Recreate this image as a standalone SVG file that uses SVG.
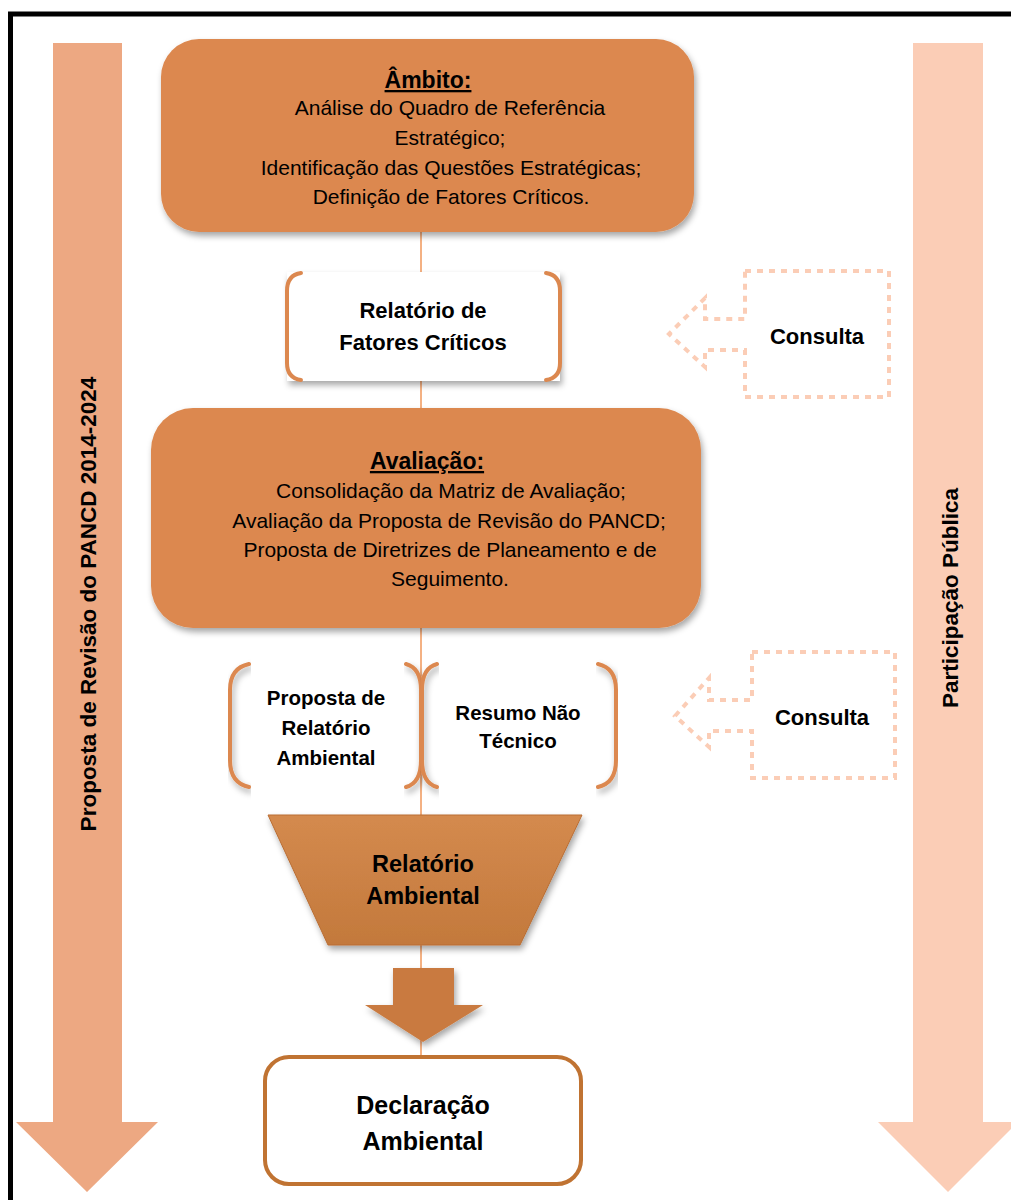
<svg xmlns="http://www.w3.org/2000/svg" width="1011" height="1200" viewBox="0 0 1011 1200">
<defs>
<style>
.t{font-family:"Liberation Sans",Arial,sans-serif;fill:#000;text-anchor:middle}
.n{font-size:21px}
.b{font-size:22px;font-weight:bold}
.h{font-size:23px;font-weight:bold;text-decoration:underline}
.s{font-size:20.5px;font-weight:bold}
.brk{fill:none;stroke:#DC884F;stroke-width:4;stroke-linecap:round}
.dot{fill:none;stroke:#FBCDB6;stroke-width:4;stroke-dasharray:6 6}
</style>
<filter id="sh" x="-10%" y="-10%" width="120%" height="130%">
<feDropShadow dx="2" dy="4" stdDeviation="3" flood-color="#000" flood-opacity="0.35"/>
</filter>
<linearGradient id="trap" x1="0" y1="0" x2="0" y2="1">
<stop offset="0" stop-color="#D48A4E"/>
<stop offset="1" stop-color="#C3793C"/>
</linearGradient>
</defs>
<rect width="1011" height="1200" fill="#fff"/>
<path d="M10.5 1200 V14 H1011" fill="none" stroke="#000" stroke-width="5"/>

<g id="arrow-left">
<polygon points="53,43 122,43 122,1122 158,1122 87,1192 16,1122 53,1122" fill="#EDA882"/>
<text class="t" style="font-size:22.5px;font-weight:bold" transform="translate(96,604) rotate(-90)">Proposta de Revisão do PANCD 2014-2024</text>
</g>
<g id="arrow-right">
<polygon points="913,43 983,43 983,1122 1018,1122 948,1192 878,1122 913,1122" fill="#FBCDB6"/>
<text class="t" style="font-size:22.5px;font-weight:bold" transform="translate(958,598) rotate(-90)">Participação Pública</text>
</g>

<g id="connectors">
<line x1="421" y1="230" x2="421" y2="1058" stroke="#F4B183" stroke-width="2"/>
</g>

<g id="ambito">
<rect x="161" y="39" width="533" height="193" rx="38" fill="#DC884F" filter="url(#sh)"/>
<text class="t h" x="428" y="88">Âmbito:</text>
<text class="t n" x="450" y="115">Análise do Quadro de Referência</text>
<text class="t n" x="450" y="145">Estratégico;</text>
<text class="t n" x="451" y="175">Identificação das Questões Estratégicas;</text>
<text class="t n" x="451" y="204">Definição de Fatores Críticos.</text>
</g>

<g id="fatores">
<rect x="287" y="272" width="273" height="109" fill="#fff" filter="url(#sh)"/>
<path class="brk" d="M301 273 Q287 275 287 291 V363 Q287 378 301 380"/>
<path class="brk" d="M546 273 Q560 275 560 291 V363 Q560 378 546 380"/>
<text class="t b" x="423" y="318">Relatório de</text>
<text class="t b" x="423" y="350">Fatores Críticos</text>
</g>

<g id="consulta1">
<path class="dot" d="M745 271 H889 V397 H745 V350 H705 V367 L669 334 L705 298 V319 H745 Z"/>
<text class="t b" x="817" y="344">Consulta</text>
</g>

<g id="avaliacao">
<rect x="151" y="408" width="550" height="220" rx="42" fill="#DC884F" filter="url(#sh)"/>
<text class="t h" x="427" y="469">Avaliação:</text>
<text class="t n" x="451" y="498">Consolidação da Matriz de Avaliação;</text>
<text class="t n" x="449" y="528">Avaliação da Proposta de Revisão do PANCD;</text>
<text class="t n" x="450" y="557">Proposta de Diretrizes de Planeamento e de</text>
<text class="t n" x="450" y="586">Seguimento.</text>
</g>

<g id="proposta-ra">
<path class="brk" d="M249 664 Q230 668 230 690 V760 Q230 783 249 787" filter="url(#sh)"/>
<path class="brk" d="M406 664 Q421 668 421 690 V760 Q421 783 406 787" filter="url(#sh)"/>
<text class="t s" x="326" y="705">Proposta de</text>
<text class="t s" x="326" y="735">Relatório</text>
<text class="t s" x="326" y="765">Ambiental</text>
</g>

<g id="resumo">
<path class="brk" d="M437 664 Q422 668 422 690 V760 Q422 783 437 787" filter="url(#sh)"/>
<path class="brk" d="M598 664 Q616 668 616 690 V760 Q616 783 598 787" filter="url(#sh)"/>
<text class="t s" x="518" y="720">Resumo Não</text>
<text class="t s" x="518" y="748">Técnico</text>
</g>

<g id="consulta2">
<path class="dot" d="M752 652 H895 V778 H752 V731 H709 V747 L675 716 L709 678 V700 H752 Z"/>
<text class="t b" x="822" y="725">Consulta</text>
</g>

<g id="relatorio-ambiental">
<polygon points="268,815 582,815 520,945 328,945" fill="url(#trap)" stroke="#B96D33" stroke-width="1" filter="url(#sh)"/>
<text class="t" style="font-size:23.5px;font-weight:bold" x="423" y="872">Relatório</text>
<text class="t" style="font-size:23.5px;font-weight:bold" x="423" y="904">Ambiental</text>
</g>

<g id="seta">
<polygon points="393,968 454,968 454,1005 483,1005 423,1042 365,1005 393,1005" fill="#C97A3F" filter="url(#sh)"/>
</g>

<g id="declaracao">
<rect x="265" y="1057" width="316" height="127" rx="24" fill="#fff" stroke="#C07332" stroke-width="4"/>
<text class="t" style="font-size:25px;font-weight:bold" x="423" y="1114">Declaração</text>
<text class="t" style="font-size:25px;font-weight:bold" x="423" y="1150">Ambiental</text>
</g>
</svg>
